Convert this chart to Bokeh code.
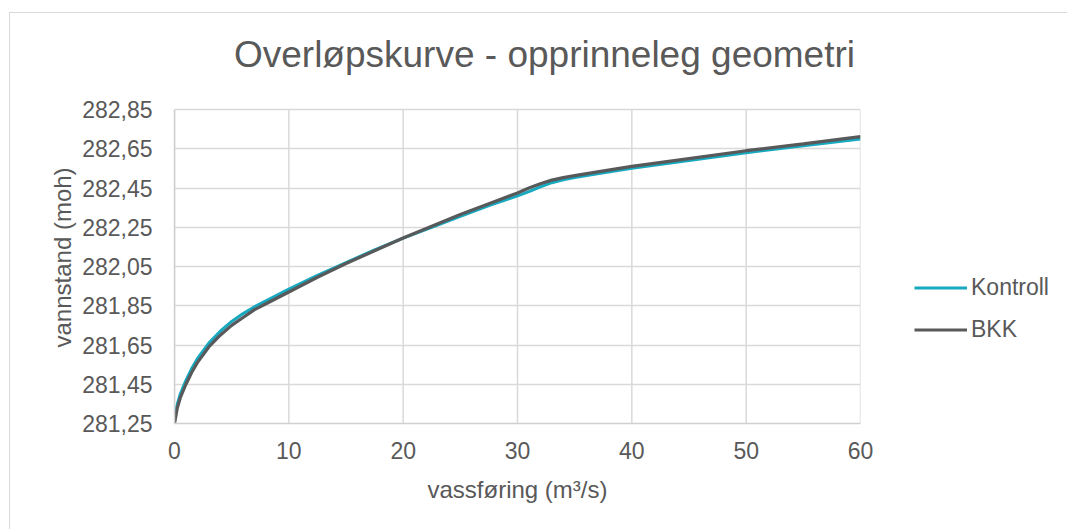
import math
from bokeh.plotting import figure
from bokeh.layouts import row
from bokeh.models import Legend, LegendItem, FixedTicker, CustomJSTickFormatter, Range1d, Label
from bokeh.embed import file_html
from bokeh.resources import INLINE

# --- data ---
title_text = "Overløpskurve - opprinneleg geometri"
x_label = "vassføring (m³/s)"
y_label = "vannstand (moh)"
series_names = ["Kontroll", "BKK"]

kontroll_x = [0, 0.25, 0.5, 1, 1.5, 2, 3, 4, 5, 6, 7, 8, 10, 12.5, 15, 17.5, 20, 22.5, 25, 27.5,
              30, 31, 32, 33, 34, 35, 37, 40, 45, 50, 55, 60]
kontroll_y = [281.27, 281.35, 281.40, 281.47, 281.53, 281.58, 281.66, 281.72, 281.77, 281.81, 281.845,
              281.875, 281.935, 282.005, 282.07, 282.135, 282.195, 282.25, 282.305, 282.36,
              282.41, 282.432, 282.456, 282.477, 282.492, 282.503, 282.522, 282.55, 282.59, 282.63,
              282.665, 282.70]

bkk_x = [0, 0.25, 0.5, 1, 1.5, 2, 3, 4, 5, 6, 7, 8, 10, 12.5, 15, 17.5, 20, 22.5, 25, 27.5,
         30, 31, 32, 33, 34, 35, 37, 40, 45, 50, 55, 60]
bkk_y = [281.25, 281.33, 281.38, 281.45, 281.51, 281.56, 281.64, 281.70, 281.75, 281.79, 281.83,
         281.86, 281.92, 281.995, 282.065, 282.13, 282.195, 282.255, 282.315, 282.37,
         282.425, 282.45, 282.472, 282.49, 282.503, 282.513, 282.532, 282.56, 282.60, 282.64,
         282.675, 282.712]

x_ticks = [0, 10, 20, 30, 40, 50, 60]
y_ticks = [281.25, 281.45, 281.65, 281.85, 282.05, 282.25, 282.45, 282.65, 282.85]

TEXT = "#595959"
FONT = "Liberation Sans"
C_KONTROLL = "#17A9BF"
C_BKK = "#58595B"
GRID = "#d9d9d9"
BORDER = "1px solid #d9d9d9"

X_MIN, X_MAX = x_ticks[0], x_ticks[-1]
Y_MIN, Y_MAX = y_ticks[0], y_ticks[-1]
# pixel layout: plot area 314 px tall for the value range, title band of 96 px above it
PLOT_H, TITLE_BAND = 314, 96
Y_TOP = Y_MAX + TITLE_BAND / PLOT_H * (Y_MAX - Y_MIN)
y_range = Range1d(Y_MIN, Y_TOP)

# --- narrow panel holding the y-axis title ---
yl = figure(width=70, height=517, output_backend="svg", toolbar_location=None,
            x_range=Range1d(0, 70), y_range=y_range,
            min_border_left=0, min_border_right=0, min_border_top=0, min_border_bottom=107)
yl.styles = {"margin-top": "12px", "margin-left": "9px", "border-top": BORDER, "border-left": BORDER}
yl.axis.visible = False
yl.grid.visible = False
yl.outline_line_color = None
yl.border_fill_color = "white"
yl.background_fill_color = "white"
yl.add_layout(Label(x=52, y=282.096, text=y_label, angle=math.pi / 2, text_align="center",
                    text_baseline="middle", text_color=TEXT, text_font=FONT, text_font_size="24px"))

# --- main plot ---
p = figure(width=800, height=517, output_backend="svg", toolbar_location=None,
           x_range=Range1d(X_MIN, X_MAX), y_range=y_range,
           min_border_left=95, min_border_right=19, min_border_top=0, min_border_bottom=107)
p.styles = {"margin-top": "12px", "border-top": BORDER}
p.outline_line_color = None
p.background_fill_color = "white"
p.border_fill_color = "white"

for ax in (p.xaxis[0], p.yaxis[0]):
    ax.major_tick_line_color = None
    ax.minor_tick_line_color = None
    ax.axis_line_color = "#d0d0d0"
    ax.axis_line_width = 1.5
    ax.major_label_text_color = TEXT
    ax.major_label_text_font = FONT
    ax.major_label_text_font_size = "23px"
    ax.axis_label_text_color = TEXT
    ax.axis_label_text_font = FONT
    ax.axis_label_text_font_size = "24px"
    ax.axis_label_text_font_style = "normal"

p.xaxis.ticker = FixedTicker(ticks=x_ticks)
p.yaxis.ticker = FixedTicker(ticks=y_ticks)
p.yaxis.bounds = (Y_MIN, Y_MAX)
p.yaxis.formatter = CustomJSTickFormatter(code="return tick.toFixed(2).replace('.', ',');")
p.xaxis.axis_label = x_label
p.xaxis.major_label_standoff = 12
p.xaxis.axis_label_standoff = 14
p.yaxis.major_label_standoff = 16

# grid: horizontal lines from the y ticker, vertical lines limited to the value range
p.xgrid.visible = False
p.ygrid.grid_line_color = GRID
p.ygrid.grid_line_width = 1.5
p.segment(x0=x_ticks, y0=[Y_MIN] * len(x_ticks), x1=x_ticks, y1=[Y_MAX] * len(x_ticks),
          line_color=GRID, line_width=1.5)

p.line(kontroll_x, kontroll_y, line_color=C_KONTROLL, line_width=3)
p.line(bkk_x, bkk_y, line_color=C_BKK, line_width=3.2)

p.add_layout(Label(x=32.36, y=283.132, text=title_text, text_align="center", text_baseline="alphabetic",
                   text_color=TEXT, text_font=FONT, text_font_size="37px"))

# --- legend panel to the right of the plot area ---
lg = figure(width=188, height=517, output_backend="svg", toolbar_location=None,
            x_range=Range1d(0, 1), y_range=Range1d(0, 1),
            min_border_left=0, min_border_right=0, min_border_top=0, min_border_bottom=107)
lg.styles = {"margin-top": "12px", "border-top": BORDER}
lg.axis.visible = False
lg.grid.visible = False
lg.outline_line_color = None
lg.border_fill_color = "white"
lg.background_fill_color = "white"
# swatch renderers kept outside the visible range: only their legend samples are seen
d1 = lg.line([5, 6], [5, 6], line_color=C_KONTROLL, line_width=3)
d2 = lg.line([5, 6], [5, 6], line_color=C_BKK, line_width=3.2)

legend = Legend(items=[LegendItem(label=series_names[0], renderers=[d1]),
                       LegendItem(label=series_names[1], renderers=[d2])],
                location=(35, 80), orientation="vertical")
legend.glyph_width = 53
legend.glyph_height = 27
legend.label_height = 27
legend.spacing = 15
legend.label_standoff = 4
legend.padding = 0
legend.margin = 0
legend.border_line_color = None
legend.background_fill_alpha = 0
legend.label_text_color = TEXT
legend.label_text_font = FONT
legend.label_text_font_size = "23px"
lg.add_layout(legend)

layout = row(yl, p, lg)
open("out.html", "w").write(file_html(layout, INLINE))
